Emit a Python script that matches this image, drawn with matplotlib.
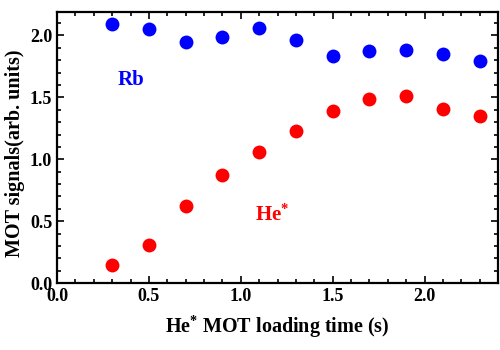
import matplotlib
matplotlib.use('Agg')
import matplotlib.pyplot as plt
from matplotlib.ticker import MultipleLocator

plt.rcParams['font.family'] = 'Liberation Serif'
plt.rcParams['font.weight'] = 'bold'
plt.rcParams['axes.labelweight'] = 'bold'
plt.rcParams['mathtext.fontset'] = 'custom'
plt.rcParams['mathtext.rm'] = 'Liberation Serif:bold'
plt.rcParams['mathtext.it'] = 'Liberation Serif:bold'
plt.rcParams['mathtext.bf'] = 'Liberation Serif:bold'

# loading time (s)
t = [0.3, 0.5, 0.7, 0.9, 1.1, 1.3, 1.5, 1.7, 1.9, 2.1, 2.3]
rb = [2.09, 2.05, 1.95, 1.99, 2.06, 1.965, 1.83, 1.876, 1.885, 1.85, 1.79]
he = [0.143, 0.31, 0.62, 0.87, 1.06, 1.23, 1.39, 1.486, 1.51, 1.41, 1.35]

fig = plt.figure(figsize=(5, 3.5), dpi=100)
ax = fig.add_axes([0.114, 0.191, 0.882, 0.775])

ax.plot(t, rb, 'o', color='#0000ff', markersize=10, markeredgewidth=0)
ax.plot(t, he, 'o', color='#ff0000', markersize=10, markeredgewidth=0)

ax.text(0.40, 1.64, 'Rb', color='#0000ff', fontsize=15, ha='center', va='center')
ax.text(1.08, 0.55, r'He$^{*}$', color='#ff0000', fontsize=15, ha='left', va='center')

ax.set_xlim(0, 2.4)
ax.set_ylim(0, 2.19)
ax.xaxis.set_major_locator(MultipleLocator(0.5))
ax.xaxis.set_minor_locator(MultipleLocator(0.1))
ax.yaxis.set_major_locator(MultipleLocator(0.5))
ax.yaxis.set_minor_locator(MultipleLocator(0.1))
ax.tick_params(which='both', direction='in', top=True, right=True, width=1.2)
ax.tick_params(which='major', length=5, labelsize=13)
ax.tick_params(which='minor', length=3)
for s in ax.spines.values():
    s.set_linewidth(1.6)

ax.set_xlabel(r'He$^{*}$ MOT loading time (s)', fontsize=14.5, labelpad=6)
ax.set_ylabel('MOT signals(arb. units)', fontsize=14.5)
ax.yaxis.set_label_coords(-0.073, 0.48)

fig.savefig('out.png')
